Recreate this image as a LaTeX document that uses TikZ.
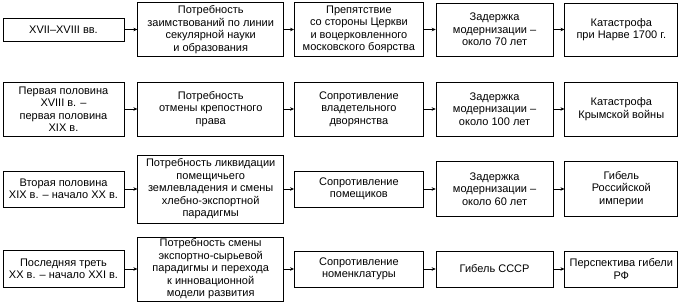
\documentclass[tikz,border=0pt]{standalone}
\usepackage{fontspec}
\setmainfont{Liberation Sans}
\usetikzlibrary{arrows.meta,positioning}

\begin{document}
\begin{tikzpicture}[
  x=1pt, y=1pt,
  font=\fontsize{11}{12.5}\selectfont,
  box/.style={draw, line width=0.7pt, align=center, inner sep=1pt},
  period/.style={box, minimum width=121pt},
  need/.style={box, minimum width=146pt},
  resist/.style={box, minimum width=129pt},
  delay/.style={box, minimum width=117pt},
  outcome/.style={box, minimum width=113pt},
  ar/.style={-{Stealth[length=4pt,width=3.5pt]}, line width=0.6pt}
]
\useasboundingbox (0,0) rectangle (680,-305);

% XVII--XVIII
\node[period, minimum height=23pt] (p1) at (63.5,-29.5) {XVII–XVIII вв.};
\node[need, minimum height=54pt, right=13pt of p1] (n1)
  {Потребность\\заимствований по линии\\секулярной науки\\и образования};
\node[resist, minimum height=54pt, right=10pt of n1] (r1)
  {Препятствие\\со стороны Церкви\\и воцерковленного\\московского боярства};
\node[delay, minimum height=53pt, right=12pt of r1] (d1) {Задержка\\модернизации –\\около 70 лет};
\node[outcome, minimum height=53pt, right=11pt of d1] (o1) {Катастрофа\\при Нарве 1700 г.};

% XVIII--XIX
\node[period, minimum height=54pt] (p2) at (63.5,-109) {Первая половина\\XVIII в. –\\первая половина\\XIX в.};
\node[need, minimum height=54pt, right=13pt of p2] (n2) {Потребность\\отмены крепостного\\права};
\node[resist, minimum height=54pt, right=10pt of n2] (r2) {Сопротивление\\владетельного\\дворянства};
\node[delay, minimum height=54pt, right=12pt of r2] (d2) {Задержка\\модернизации –\\около 100 лет};
\node[outcome, minimum height=54pt, right=11pt of d2] (o2) {Катастрофа\\Крымской войны};

% XIX--XX
\node[period, minimum height=36pt] (p3) at (63.5,-189) {Вторая половина\\XIX в. – начало XX в.};
\node[need, minimum height=68pt, right=13pt of p3] (n3)
  {Потребность ликвидации\\помещичьего\\землевладения и смены\\хлебно-экспортной\\парадигмы};
\node[resist, minimum height=36pt, right=10pt of n3] (r3) {Сопротивление\\помещиков};
\node[delay, minimum height=55pt, right=12pt of r3] (d3) {Задержка\\модернизации –\\около 60 лет};
\node[outcome, minimum height=55pt, right=11pt of d3] (o3) {Гибель\\Российской\\империи};

% XX--XXI
\node[period, minimum height=37pt] (p4) at (63.5,-269) {Последняя треть\\XX в. – начало XXI в.};
\node[need, minimum height=64pt, right=13pt of p4] (n4)
  {Потребность смены\\экспортно-сырьевой\\парадигмы и перехода\\к инновационной\\модели развития};
\node[resist, minimum height=36pt, right=10pt of n4] (r4) {Сопротивление\\номенклатуры};
\node[delay, minimum height=36pt, right=12pt of r4] (d4) {Гибель СССР};
\node[outcome, minimum height=36pt, right=11pt of d4] (o4) {Перспектива гибели\\РФ};

\draw[ar] (p1) -- (n1);
\draw[ar] (n1) -- (r1);
\draw[ar] (r1) -- (d1);
\draw[ar] (d1) -- (o1);
\draw[ar] (p2) -- (n2);
\draw[ar] (n2) -- (r2);
\draw[ar] (r2) -- (d2);
\draw[ar] (d2) -- (o2);
\draw[ar] (p3) -- (n3);
\draw[ar] (n3) -- (r3);
\draw[ar] (r3) -- (d3);
\draw[ar] (d3) -- (o3);
\draw[ar] (p4) -- (n4);
\draw[ar] (n4) -- (r4);
\draw[ar] (r4) -- (d4);
\draw[ar] (d4) -- (o4);
\end{tikzpicture}
\end{document}
